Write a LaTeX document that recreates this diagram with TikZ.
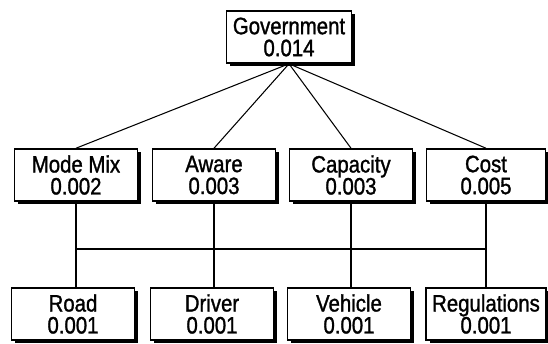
\documentclass[tikz,border=0pt]{standalone}
\usepackage{fontspec}
\setmainfont{Liberation Sans}[FakeStretch=0.86, FakeBold=1.2]
\usetikzlibrary{shadows}

\begin{document}
\begin{tikzpicture}[x=0.02cm, y=-0.02cm, line width=0.6pt, font=\fontsize{13.5}{12.5}\selectfont,
    every node/.style={draw, fill=white, line width=0.9pt, align=center, inner sep=0pt, minimum height=1.04cm,
      drop shadow={shadow xshift=0.07cm, shadow yshift=-0.05cm, fill=black, opacity=1}},
    wide/.style={minimum width=2.46cm}]
        \useasboundingbox (0, 0) rectangle (548, 343);

        % top
        \node[minimum width=2.5cm] (gov) at (289, 37) {Government\\0.014};

        % criteria
        \node[wide] (mode) at (76, 175) {Mode Mix\\0.002};
        \node[wide] (aware) at (214, 175) {Aware\\0.003};
        \node[wide] (capa) at (351, 175) {Capacity\\0.003};
        \node[wide, minimum width=2.38cm] (cost) at (486, 175) {Cost\\0.005};

        % sub-factors
        \node[wide] (road) at (73, 314) {Road\\0.001};
        \node[wide] (driver) at (212, 314) {Driver\\0.001};
        \node[wide] (vehicle) at (349, 314) {Vehicle\\0.001};
        \node[wide, minimum width=2.4cm] (regul) at (486, 314) {Regulations\\0.001};

        \coordinate (bus) at (0, 249);

        \draw (gov.south) -- (mode.north);
        \draw (gov.south) -- (aware.north);
        \draw (gov.south) -- (capa.north);
        \draw (gov.south) -- (cost.north);

        \draw (mode.south) -- (mode.south |- road.north);
        \draw (aware.south) -- (aware.south |- driver.north);
        \draw (capa.south) -- (capa.south |- vehicle.north);
        \draw (cost.south) -- (cost.south |- regul.north);
        \draw (mode.south |- bus) -- (cost.south |- bus);
    \end{tikzpicture}
\end{document}
